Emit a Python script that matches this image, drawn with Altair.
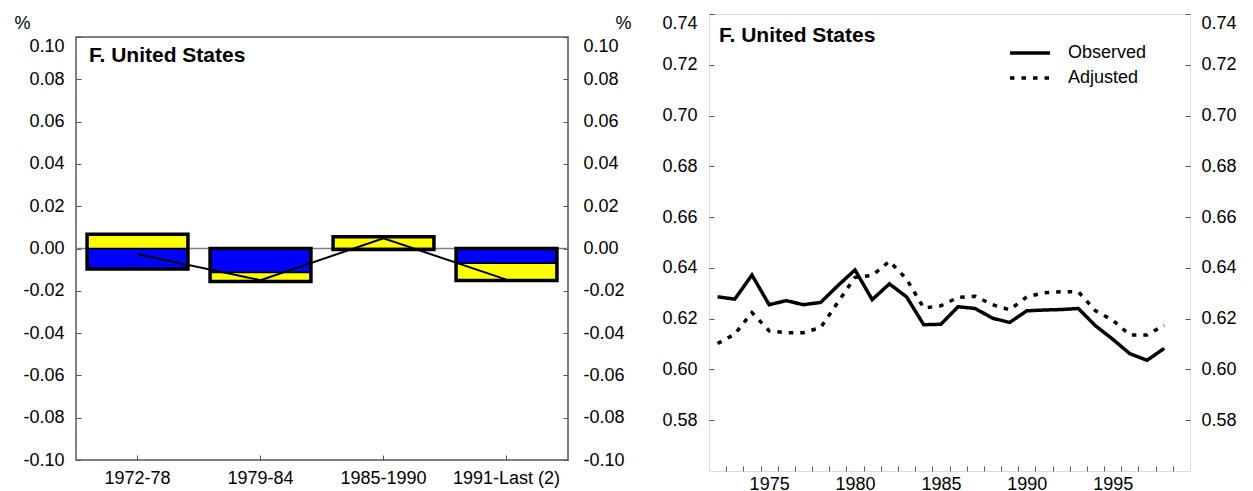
import altair as alt
import pandas as pd

# Left panel: contributions by period (blue + yellow parts, black line = total)
periods = ["1972-78", "1979-84", "1985-1990", "1991-Last (2)"]
blue_part = [-0.0097, -0.0114, -0.0005, -0.0070]
yellow_part = [0.0067, -0.0042, 0.0055, -0.0081]
total_change = [-0.0027, -0.0150, 0.0048, -0.0147]
left_ticks = [-0.10, -0.08, -0.06, -0.04, -0.02, 0.00, 0.02, 0.04, 0.06, 0.08, 0.10]

# Right panel: observed vs adjusted, 1972-1998
years = list(range(1972, 1999))
observed = [0.6286, 0.6277, 0.6372, 0.6255, 0.6271, 0.6255, 0.6264, 0.6330, 0.6392,
            0.6275, 0.6337, 0.6286, 0.6176, 0.6178, 0.6247, 0.6240, 0.6202, 0.6185,
            0.6231, 0.6234, 0.6236, 0.6240, 0.6172, 0.6119, 0.6062, 0.6036, 0.6083]
adjusted = [0.6102, 0.6139, 0.6224, 0.6152, 0.6145, 0.6145, 0.6165, 0.6264, 0.6363,
            0.6370, 0.6426, 0.6356, 0.6242, 0.6251, 0.6284, 0.6288, 0.6255, 0.6235,
            0.6286, 0.6302, 0.6306, 0.6306, 0.6231, 0.6194, 0.6136, 0.6136, 0.6174]
right_ticks = [0.58, 0.60, 0.62, 0.64, 0.66, 0.68, 0.70, 0.72, 0.74]
year_ticks = list(range(1973, 2000))

FONT = "Liberation Sans"
FRAME = "#555555"
# d3 uses a unicode minus, the original shows a plain hyphen
LABEL_EXPR = "replace(format(datum.value, '.2f'), '\u2212', '-')"


def y_axis(orient, ticks, pad, title=None, title_x=0, flush=True):
    opts = dict(orient=orient, values=ticks, labelExpr=LABEL_EXPR, offset=-5, tickSize=5,
                domain=False, grid=False, labelPadding=pad,
                labelFont=FONT, labelFontSize=18, labelColor="black", tickColor=FRAME)
    if flush:
        opts.update(labelFlush=True)
    else:
        # top label hangs below its tick like in the original
        opts.update(labelFlush=False,
                    labelBaseline={"condition": {"test": "datum.value > 0.099", "value": "top"},
                                   "value": "middle"})
    if title:
        opts.update(title=title, titleAngle=0, titleAlign="center", titleBaseline="top",
                    titleX=title_x, titleY=0, titleFont=FONT, titleFontSize=18,
                    titleFontWeight="normal", titleColor="black")
    else:
        opts.update(title=None)
    return alt.Axis(**opts)


# ---- left panel ----
parts = pd.DataFrame({
    "period": periods + periods,
    "part": ["blue"] * len(periods) + ["yellow"] * len(periods),
    "rank": [0] * len(periods) + [1] * len(periods),
    "value": blue_part + yellow_part,
})
totals = pd.DataFrame({
    "period": periods,
    "top": [max(b, 0) + max(y, 0) for b, y in zip(blue_part, yellow_part)],
    "bottom": [min(b, 0) + min(y, 0) for b, y in zip(blue_part, yellow_part)],
    "total": total_change,
})
frame = pd.DataFrame({"lo": [left_ticks[0]], "hi": [left_ticks[-1]]})

# the plot area reaches 23px above the frame so the "%" titles fit inside it
extra = (left_ticks[-1] - left_ticks[0]) * 23 / 423
ys_left = alt.Scale(domain=[left_ticks[0], left_ticks[-1] + extra], nice=False, zero=False)
x_left = alt.X("period:N", sort=periods, title=None,
               scale=alt.Scale(paddingInner=0.18, paddingOuter=0.09),
               axis=alt.Axis(labelAngle=0, offset=-5, tickSize=5, domain=False,
                             labelPadding=9, labelFont=FONT, labelFontSize=18,
                             labelColor="black", tickColor=FRAME))

box_frame = alt.Chart(frame).mark_rect(filled=False, stroke=FRAME, strokeWidth=1.5).encode(
    y=alt.Y("lo:Q", scale=ys_left, axis=None),
    y2="hi:Q",
)

zero = alt.Chart(pd.DataFrame({"zero": [0.0]})).mark_rule(
    color="#808080", strokeWidth=1.5
).encode(y=alt.Y("zero:Q", scale=ys_left, axis=None))

bars = alt.Chart(parts).mark_bar(stroke="black", strokeWidth=1.5).encode(
    x=x_left,
    y=alt.Y("value:Q", stack="zero", scale=ys_left,
            axis=y_axis("left", left_ticks, 12, "%", -59, flush=False)),
    color=alt.Color("part:N", scale=alt.Scale(domain=["blue", "yellow"],
                                              range=["#0000FF", "#FFFF00"]), legend=None),
    order=alt.Order("rank:Q"),
)

boxes = alt.Chart(totals).mark_bar(filled=False, stroke="black", strokeWidth=3.5).encode(
    x=x_left,
    y=alt.Y("top:Q", scale=ys_left, axis=None),
    y2="bottom:Q",
)

total_line = alt.Chart(totals).mark_line(color="black", strokeWidth=2).encode(
    x=x_left,
    y=alt.Y("total:Q", scale=ys_left,
            axis=y_axis("right", left_ticks, 15, "%", 60, flush=False)),
)

title_left = alt.Chart(pd.DataFrame({"t": ["F. United States"]})).mark_text(
    align="left", baseline="middle", font=FONT, fontSize=21, fontWeight="bold", color="black"
).encode(x=alt.value(13), y=alt.value(42), text="t:N")

left = alt.layer(box_frame, zero, bars, boxes, total_line, title_left).resolve_scale(
    y="independent"
).properties(width=492, height=446, view=alt.ViewBackground(stroke="transparent"))

# ---- right panel ----
lines = pd.DataFrame({
    "year": years + years,
    "share": observed + adjusted,
    "series": ["Observed"] * len(years) + ["Adjusted"] * len(years),
})

ys_right = alt.Scale(domain=[0.56, 0.74], nice=False, zero=False)
x_right = alt.X("xpos:Q", title=None, scale=alt.Scale(domain=[1972, 2000], nice=False, zero=False),
                axis=alt.Axis(values=year_ticks, labelExpr="datum.value % 5 == 0 ? datum.value + '' : ''",
                              labelOffset=8.6, offset=-5, tickSize=5, domain=False, grid=False,
                              labelPadding=4, labelFlush=False, labelFont=FONT, labelFontSize=18,
                              labelColor="black", tickColor=FRAME))

series_lines = alt.Chart(lines).transform_calculate(xpos="datum.year + 0.5").mark_line(
    color="black", strokeWidth=3.5, strokeCap="butt"
).encode(
    x=x_right,
    y=alt.Y("share:Q", scale=ys_right, axis=y_axis("left", right_ticks, 12)),
    strokeDash=alt.StrokeDash(
        "series:N", sort=["Observed", "Adjusted"],
        scale=alt.Scale(domain=["Observed", "Adjusted"], range=[[1, 0], [4.5, 7]]),
        legend=alt.Legend(orient="none", legendX=299, legendY=30, title=None, padding=0,
                          symbolType="stroke", symbolSize=1600, symbolStrokeWidth=3.5,
                          symbolStrokeColor="black", labelFont=FONT, labelFontSize=18,
                          labelColor="black", labelOffset=16, clipHeight=18, rowPadding=7),
    ),
)

right_axis = alt.Chart(lines).transform_calculate(xpos="datum.year + 0.5").mark_line(
    opacity=0
).encode(
    x=x_right,
    y=alt.Y("share:Q", scale=ys_right, axis=y_axis("right", right_ticks, 11)),
    detail="series:N",
)

title_right = alt.Chart(pd.DataFrame({"t": ["F. United States"]})).mark_text(
    align="left", baseline="middle", font=FONT, fontSize=21, fontWeight="bold", color="black"
).encode(x=alt.value(10), y=alt.value(22), text="t:N")

right = alt.layer(series_lines, right_axis, title_right).resolve_scale(
    y="independent"
).properties(width=481, height=457)

chart = alt.hconcat(left, right, spacing=29).resolve_scale(
    strokeDash="independent", color="independent"
).configure_view(stroke=FRAME, strokeWidth=1.5).configure(font=FONT)

chart.save("out.html", embed_options={"renderer": "svg", "actions": False})
